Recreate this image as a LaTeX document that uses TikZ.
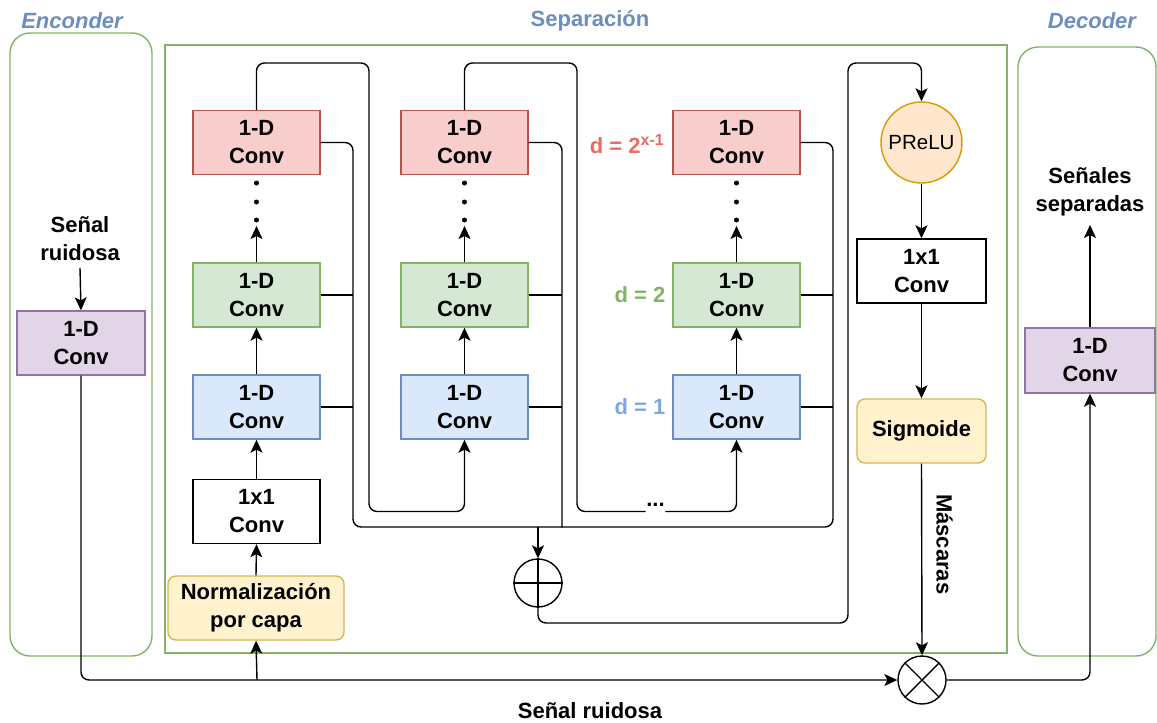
\documentclass[tikz,border=0pt]{standalone}
\usepackage{fontspec}
\setmainfont{Liberation Sans}
\usetikzlibrary{arrows.meta}
\definecolor{redF}{HTML}{F8CECC}\definecolor{redS}{HTML}{B85450}
\definecolor{grnF}{HTML}{D5E8D4}\definecolor{grnS}{HTML}{82B366}
\definecolor{bluF}{HTML}{DAE8FC}\definecolor{bluS}{HTML}{6C8EBF}
\definecolor{yelF}{HTML}{FFF2CC}\definecolor{yelS}{HTML}{D6B656}
\definecolor{orgF}{HTML}{FFE6CC}\definecolor{orgS}{HTML}{D79B00}
\definecolor{purF}{HTML}{E1D5E7}\definecolor{purS}{HTML}{9673A6}
\definecolor{titleC}{HTML}{6C8EBF}
\definecolor{dred}{HTML}{EA6B66}
\definecolor{dgrn}{HTML}{82B366}
\definecolor{dblu}{HTML}{7EA6E0}
\begin{document}
\begin{tikzpicture}[x=1pt,y=-1pt,
  font=\bfseries\fontsize{22}{28}\selectfont,
  line width=1.4pt,
  convbox/.style={draw, minimum width=127pt, minimum height=64pt, inner sep=0pt, align=center},
  redbox/.style={convbox, fill=redF, draw=redS},
  grnbox/.style={convbox, fill=grnF, draw=grnS},
  blubox/.style={convbox, fill=bluF, draw=bluS},
  whtbox/.style={convbox, fill=white, draw=black},
  purbox/.style={convbox, fill=purF, draw=purS, minimum width=128pt},
  yelbox/.style={convbox, fill=yelF, draw=yelS, rounded corners=8pt},
  container/.style={draw=grnS, inner sep=0pt},
  title/.style={text=titleC, inner sep=0pt},
  txt/.style={align=center, inner sep=0pt},
  arr/.style={-{Stealth[length=13pt,width=12pt,inset=3pt]}},
  wire/.style={rounded corners=8pt},
  dotmark/.style={circle, fill=black, inner sep=0pt, minimum size=5pt}
]
\useasboundingbox (0,0) rectangle (1157,723);
% containers
\node[container, rounded corners=20pt, minimum width=142pt, minimum height=623pt] (enc) at (81,344.5) {};
\node[container, minimum width=842pt, minimum height=608pt] (sep) at (586,349) {};
\node[container, rounded corners=20pt, minimum width=138pt, minimum height=609pt] (dec) at (1087,351.5) {};
% titles
\node[title] (enct) at (72,21) {\itshape Enconder};
\node[title] (sept) at (590,21) {Separación};
\node[title] (dect) at (1092,21) {\itshape Decoder};
% encoder
\node[txt] (inlbl) at (80,239) {Señal\\ruidosa};
\node[purbox] (encconv) at (81,343) {1-D\\Conv};
% column 1
\node[redbox] (r1) at (256.5,142.5) {1-D\\Conv};
\node[grnbox] (g1) at (256.5,295) {1-D\\Conv};
\node[blubox] (b1) at (256.5,407) {1-D\\Conv};
\node[whtbox] (w1) at (256.5,511.5) {1x1\\Conv};
\node[yelbox, minimum width=176pt] (norm) at (256,608) {Normalización\\por capa};
% column 2
\node[redbox] (r2) at (464.5,142.5) {1-D\\Conv};
\node[grnbox] (g2) at (464.5,295) {1-D\\Conv};
\node[blubox] (b2) at (464.5,407) {1-D\\Conv};
% column 3
\node[redbox] (r3) at (736.5,142.5) {1-D\\Conv};
\node[grnbox] (g3) at (736.5,295) {1-D\\Conv};
\node[blubox] (b3) at (736.5,407) {1-D\\Conv};
\node[inner sep=0pt, anchor=east, text=dred] (d3) at (665,144) {d = 2\textsuperscript{\fontsize{16}{16}\selectfont x-1}};
\node[inner sep=0pt, anchor=east, text=dgrn] (d2) at (666,295) {d = 2};
\node[inner sep=0pt, anchor=east, text=dblu] (d1) at (666,407) {d = 1};
% vertical dots
\foreach \c/\n in {256.5/1,464.5/2,736.5/3}{
  \node[dotmark] (dA\n) at (\c,183) {};
  \node[dotmark] (dB\n) at (\c,202) {};
  \node[dotmark] (dC\n) at (\c,220) {};
  \coordinate (dt\n) at (\c,226);
}
\node[inner sep=0pt] (ell) at (655.5,505) {...};
% right part
\node[circle, draw=orgS, fill=orgF, minimum size=81pt, inner sep=0pt, font=\fontsize{20.5}{22}\selectfont] (prelu) at (921.5,142.5) {PReLU};
\node[whtbox, minimum width=129pt] (w2) at (921.5,271) {1x1\\Conv};
\node[yelbox, minimum width=129pt] (sig) at (921.5,431) {Sigmoide};
\node[circle, draw, minimum size=48pt, inner sep=0pt] (plus) at (538,583) {};
\node[circle, draw, minimum size=48pt, inner sep=0pt] (times) at (922,680) {};
\draw (times.45) -- (times.225) (times.135) -- (times.-45);
% decoder
\node[purbox, minimum width=130pt, minimum height=65pt] (decconv) at (1090,360.5) {1-D\\Conv};
\node[txt] (outlbl) at (1090,192) {Señales\\separadas};
\node[txt] (botlbl) at (590,711) {Señal ruidosa};
% ---------- connectors ----------
\coordinate (inarr) at (80,268);
\draw[arr] (inarr) -- (encconv.north);
\coordinate (botline) at (257,680);
\draw[arr, wire] (encconv.south) |- (times.west);
\draw[arr] (botline) -- (norm.south);
\draw[arr] (norm.north) -- (w1.south);
\draw[arr] (w1.north) -- (b1.south);
\draw[arr] (b1.north) -- (g1.south);
\draw[arr] (g1.north) -- (dt1);
\draw[arr] (b2.north) -- (g2.south);
\draw[arr] (g2.north) -- (dt2);
\draw[arr] (b3.north) -- (g3.south);
\draw[arr] (g3.north) -- (dt3);
% residual paths
\draw[arr, wire] (r1.north) -- (256.5,63) -- (369,63) -- (369,511.5) -- (464.5,511.5) -- (b2.south);
\draw[wire] (r2.north) -- (464.5,63) -- (577,63) -- (577,511.5) -- (ell.west |- 0,511.5);
\draw[arr, wire] (ell.east |- 0,511.5) -- (736.5,511.5) -- (b3.south);
% skip connections
\draw[wire] (r1.east) -- (353,142.5) -- (353,527) -- (833,527) -- (833,142.5) -- (r3.east);
\draw (g1.east) -- (353,295) (b1.east) -- (353,407);
\draw[wire] (r2.east) -- (562,142.5) -- (562,527.6);
\draw (g2.east) -- (562,295) (b2.east) -- (562,407);
\draw (g3.east) -- (833,295) (b3.east) -- (833,407);
\coordinate (sumin) at (538,527);
\draw[arr] (sumin) -- (plus.north);
\draw (plus.north) -- (plus.south) (plus.west) -- (plus.east);
\draw[arr, wire] (plus.south) -- (538,623) -- (848,623) -- (848,63) -- (921.5,63) -- (prelu.north);
\draw[arr] (prelu.south) -- (w2.north);
\draw[arr] (w2.south) -- (sig.north);
\draw[arr] (sig.south) -- node[pos=0.42, right=14pt, rotate=-90, anchor=south, inner sep=0pt] {Máscaras} (times.north);
\draw[arr, wire] (times.east) -| (decconv.south);
\draw[arr] (decconv.north) -- (1090,225);
\end{tikzpicture}
\end{document}
